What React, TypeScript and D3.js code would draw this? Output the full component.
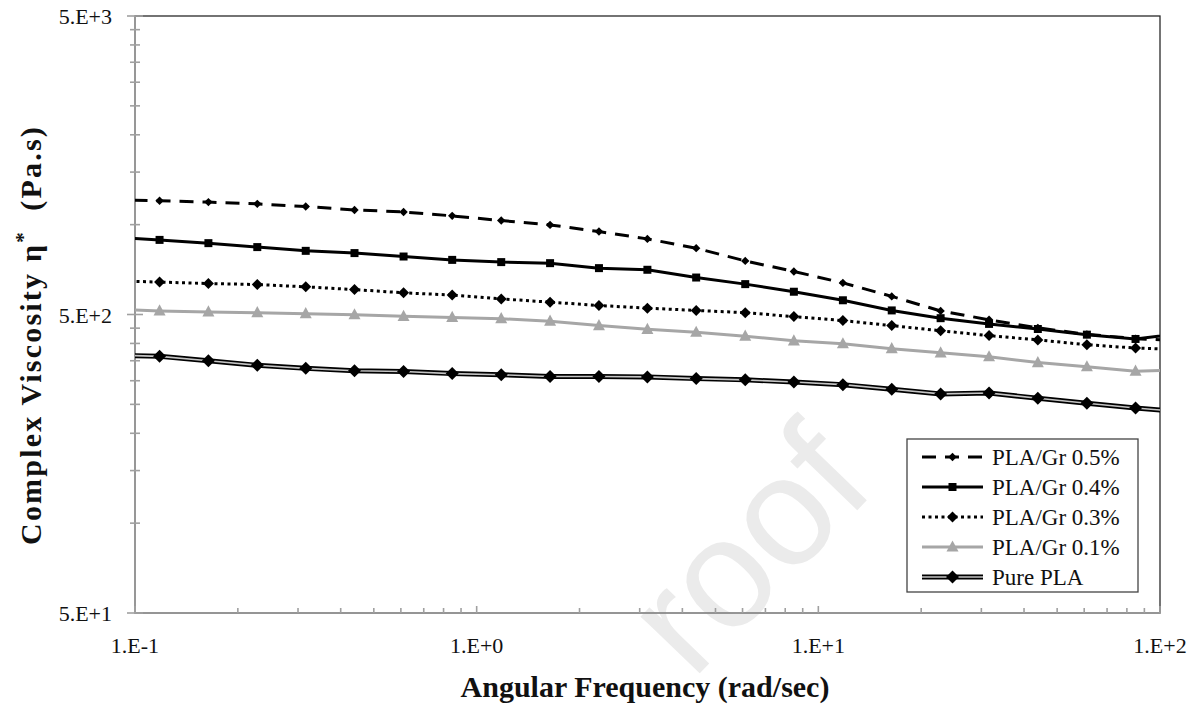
import { useEffect, useRef } from "react"
import * as d3 from "d3"

// angular frequency (rad/s); first and last points sit just outside the axis range
const freq = [
  0.0848, 0.118, 0.164, 0.228, 0.316, 0.439, 0.611, 0.848, 1.18, 1.64, 2.28, 3.16,
  4.39, 6.11, 8.48, 11.8, 16.4, 22.8, 31.6, 43.9, 61.1, 84.8, 118,
]

// complex viscosity (Pa.s)
const gr05 = [
  1210, 1202, 1190, 1174, 1150, 1120, 1103, 1070, 1032, 998, 948, 896,
  834, 756, 697, 638, 575, 514, 480, 451, 429, 415, 408,
]
const gr04 = [
  910, 889, 867, 841, 817, 803, 782, 762, 749, 743, 715, 706,
  665, 632, 596, 558, 516, 486, 465, 447, 428, 414, 434,
]
const gr03 = [
  649, 642, 635, 630, 619, 606, 591, 581, 564, 550, 536, 525,
  516, 507, 492, 477, 459, 441, 425, 411, 396, 386, 381,
]
const gr01 = [
  522, 514, 510, 507, 503, 499, 493, 489, 484, 475, 459, 446,
  436, 423, 408, 399, 384, 372, 361, 345, 334, 323, 326,
]
const purePla = [
  366, 362, 350, 338, 330, 324, 322, 317, 314, 310, 310, 309,
  305, 302, 297, 291, 281, 271, 273, 262, 252, 243, 236,
]

const seriesNames = ["PLA/Gr 0.5%", "PLA/Gr 0.4%", "PLA/Gr 0.3%", "PLA/Gr 0.1%", "Pure PLA"]

const xMajorTicks = [0.1, 1, 10, 100]
const xTickLabels = ["1.E-1", "1.E+0", "1.E+1", "1.E+2"]
const xMinorTicks = [
  0.2, 0.3, 0.4, 0.5, 0.6, 0.7, 0.8, 0.9, 2, 3, 4, 5, 6, 7, 8, 9,
  20, 30, 40, 50, 60, 70, 80, 90,
]
const yMajorTicks = [50, 500, 5000]
const yTickLabels = ["5.E+1", "5.E+2", "5.E+3"]
const yMinorTicks = [
  100, 150, 200, 250, 300, 350, 400, 450,
  1000, 1500, 2000, 2500, 3000, 3500, 4000, 4500,
]

const serif = "'Liberation Serif', 'Times New Roman', serif"

const diamond = (r: number) => `M0,${-r}L${r},0L0,${r}L${-r},0Z`
const square = (s: number) => `M${-s / 2},${-s / 2}h${s}v${s}h${-s}Z`
const triangle = (w: number) => `M0,${-w * 0.55}L${w / 2},${w * 0.38}L${-w / 2},${w * 0.38}Z`

export default function App() {
  const svgRef = useRef<SVGSVGElement>(null)

  useEffect(() => {
    if (!svgRef.current) return
    const svg = d3.select(svgRef.current)
    svg.selectAll("*").remove()

    const left = 135
    const right = 1160
    const top = 16
    const bottom = 613

    const x = d3.scaleLog().domain([0.1, 100]).range([left, right])
    const y = d3.scaleLog().domain([50, 5000]).range([bottom, top])

    svg.append("rect").attr("width", 1196).attr("height", 711).attr("fill", "#fff")

    // faint watermark
    svg
      .append("text")
      .attr("transform", "translate(785,585) rotate(-46)")
      .attr("text-anchor", "middle")
      .attr("font-family", "'Liberation Sans', Arial, sans-serif")
      .attr("font-size", 155)
      .attr("fill", "#ebebeb")
      .text("roof")

    svg
      .append("defs")
      .append("clipPath")
      .attr("id", "plot-clip")
      .append("rect")
      .attr("x", left)
      .attr("y", top)
      .attr("width", right - left)
      .attr("height", bottom - top)

    // plot area border
    svg
      .append("rect")
      .attr("x", left)
      .attr("y", top)
      .attr("width", right - left)
      .attr("height", bottom - top)
      .attr("fill", "none")
      .attr("stroke", "#2a2a2a")
      .attr("stroke-width", 1.3)

    const axisColor = "#a0a0a0"
    const axes = svg.append("g").attr("stroke", axisColor).attr("stroke-width", 1.6)

    axes.append("line").attr("x1", left).attr("x2", left).attr("y1", top).attr("y2", bottom)
    axes.append("line").attr("x1", left).attr("x2", right).attr("y1", bottom).attr("y2", bottom)

    axes
      .selectAll(".y-major")
      .data(yMajorTicks)
      .enter()
      .append("line")
      .attr("x1", left - 8)
      .attr("x2", left + 8)
      .attr("y1", (d) => y(d))
      .attr("y2", (d) => y(d))
    axes
      .selectAll(".y-minor")
      .data(yMinorTicks)
      .enter()
      .append("line")
      .attr("x1", left - 5)
      .attr("x2", left + 5)
      .attr("y1", (d) => y(d))
      .attr("y2", (d) => y(d))
    axes
      .selectAll(".x-major")
      .data(xMajorTicks)
      .enter()
      .append("line")
      .attr("x1", (d) => x(d))
      .attr("x2", (d) => x(d))
      .attr("y1", bottom - 7)
      .attr("y2", bottom)
    axes
      .selectAll(".x-minor")
      .data(xMinorTicks)
      .enter()
      .append("line")
      .attr("x1", (d) => x(d))
      .attr("x2", (d) => x(d))
      .attr("y1", bottom - 5)
      .attr("y2", bottom)

    // tick labels
    svg
      .selectAll(".y-label")
      .data(yMajorTicks)
      .enter()
      .append("text")
      .attr("x", 112)
      .attr("y", (d) => y(d) + 8)
      .attr("text-anchor", "end")
      .attr("font-family", serif)
      .attr("font-size", 22)
      .attr("fill", "#111")
      .text((d, i) => yTickLabels[i])

    svg
      .selectAll(".x-label")
      .data(xMajorTicks)
      .enter()
      .append("text")
      .attr("x", (d) => x(d))
      .attr("y", 653)
      .attr("text-anchor", "middle")
      .attr("font-family", serif)
      .attr("font-size", 22)
      .attr("fill", "#111")
      .text((d, i) => xTickLabels[i])

    // axis titles
    svg
      .append("text")
      .attr("x", 645)
      .attr("y", 697)
      .attr("text-anchor", "middle")
      .attr("font-family", serif)
      .attr("font-weight", "bold")
      .attr("font-size", 30)
      .attr("fill", "#111")
      .text("Angular Frequency (rad/sec)")

    const yTitle = svg
      .append("text")
      .attr("transform", "translate(41,335) rotate(-90)")
      .attr("text-anchor", "middle")
      .attr("font-family", serif)
      .attr("font-weight", "bold")
      .attr("font-size", 30)
      .attr("letter-spacing", 2.2)
      .attr("fill", "#111")
    yTitle.append("tspan").text("Complex Viscosity η")
    yTitle.append("tspan").attr("dy", -11).attr("font-size", 21).text("*")
    yTitle.append("tspan").attr("dy", 11).text("\u00a0 (Pa.s)")

    // series
    const series = [
      { name: seriesNames[4], values: purePla, kind: "double", marker: diamond(6.5), fill: "#000" },
      { name: seriesNames[3], values: gr01, color: "#a6a6a6", dash: null, marker: triangle(12), fill: "#a6a6a6" },
      { name: seriesNames[2], values: gr03, color: "#000", dash: "3,3.5", marker: diamond(5.5), fill: "#000" },
      { name: seriesNames[1], values: gr04, color: "#000", dash: null, marker: square(8), fill: "#000" },
      { name: seriesNames[0], values: gr05, color: "#000", dash: "14,9", marker: diamond(4.2), fill: "#000" },
    ]

    const plot = svg.append("g").attr("clip-path", "url(#plot-clip)")

    const line = d3
      .line<number>()
      .x((d, i) => x(freq[i]))
      .y((d) => y(d))

    series.forEach((s) => {
      if (s.kind === "double") {
        plot.append("path").attr("d", line(s.values)).attr("fill", "none").attr("stroke", "#000").attr("stroke-width", 5)
        plot.append("path").attr("d", line(s.values)).attr("fill", "none").attr("stroke", "#c4c4c4").attr("stroke-width", 1.6)
      } else {
        plot
          .append("path")
          .attr("d", line(s.values))
          .attr("fill", "none")
          .attr("stroke", s.color!)
          .attr("stroke-width", 3)
          .attr("stroke-dasharray", s.dash)
      }
      plot
        .selectAll(null)
        .data(s.values)
        .enter()
        .append("path")
        .attr("transform", (d, i) => `translate(${x(freq[i])},${y(d)})`)
        .attr("d", s.marker)
        .attr("fill", s.fill)
    })

    // legend
    const legend = svg.append("g")
    legend
      .append("rect")
      .attr("x", 907)
      .attr("y", 439)
      .attr("width", 231)
      .attr("height", 153)
      .attr("fill", "#fff")
      .attr("stroke", "#444")
      .attr("stroke-width", 1.3)

    const legendOrder = [...series].reverse()
    legendOrder.forEach((s, i) => {
      const ly = 457 + i * 30
      const g = legend.append("g").attr("transform", `translate(0,${ly})`)
      if (s.kind === "double") {
        g.append("line").attr("x1", 922).attr("x2", 983).attr("stroke", "#000").attr("stroke-width", 5)
        g.append("line").attr("x1", 922).attr("x2", 983).attr("stroke", "#c4c4c4").attr("stroke-width", 1.6)
      } else {
        g.append("line")
          .attr("x1", 922)
          .attr("x2", 983)
          .attr("stroke", s.color!)
          .attr("stroke-width", 3)
          .attr("stroke-dasharray", s.dash)
      }
      g.append("path").attr("transform", "translate(952.5,0)").attr("d", s.marker).attr("fill", s.fill)
      g.append("text")
        .attr("x", 992)
        .attr("y", 7.5)
        .attr("font-family", serif)
        .attr("font-size", 23)
        .attr("fill", "#111")
        .text(s.name)
    })
  }, [])

  return <svg ref={svgRef} width={1196} height={711} style={{ position: "absolute", left: 0, top: 0 }} />
}
